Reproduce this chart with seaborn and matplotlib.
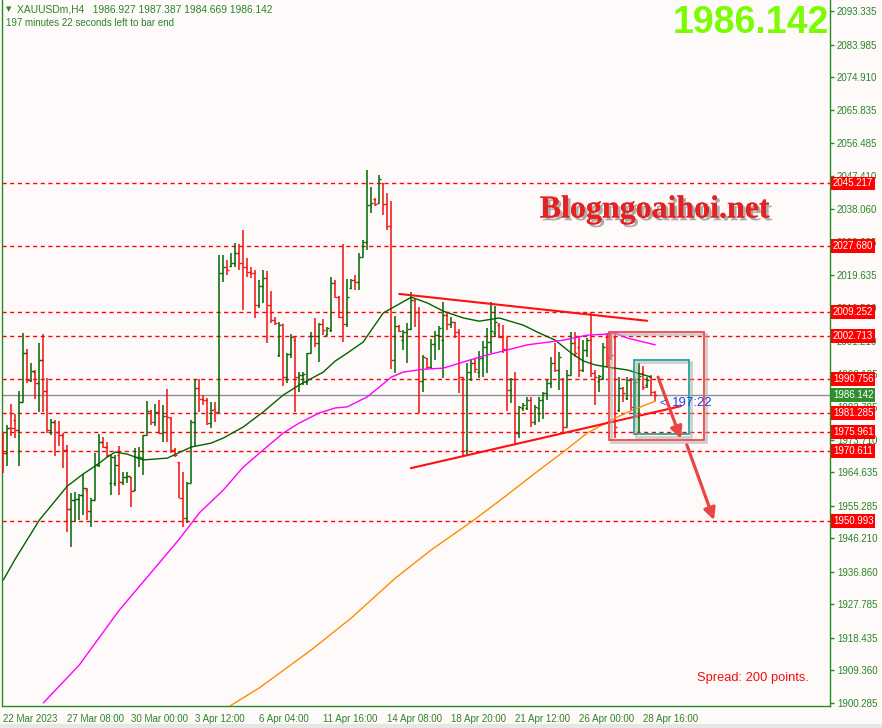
import numpy as np
import pandas as pd
import seaborn as sns
import matplotlib.pyplot as plt
import matplotlib.patheffects as pe
from matplotlib.patches import Rectangle

# XAUUSDm H4 bars (oldest first)
opens = [
    1975.0, 1970.1, 1981.1, 1979.2, 1976.4, 1984.2, 1997.8, 1990.4, 1992.7, 1989.5,
    1996.0, 1987.3, 1976.0, 1978.8, 1976.0, 1975.0, 1971.0, 1954.3, 1956.9, 1957.1,
    1958.3, 1959.7, 1953.9, 1956.9, 1966.7, 1973.2, 1971.8, 1961.7, 1961.7, 1969.5,
    1962.0, 1963.4, 1963.4, 1959.7, 1968.5, 1968.5, 1975.0, 1981.8, 1978.8, 1981.6,
    1975.5, 1980.3, 1979.7, 1970.9, 1967.6, 1957.4, 1951.8, 1961.6, 1978.8, 1988.1,
    1985.1, 1984.8, 1978.3, 1982.2, 1981.6, 2020.3, 2022.0, 2022.2, 2023.1, 2025.7,
    2022.9, 2022.0, 2020.6, 2020.3, 2011.3, 2016.6, 2018.8, 2011.3, 2007.1, 1997.5,
    2006.0, 1991.1, 1997.6, 2001.6, 1991.3, 1991.8, 1989.9, 1997.8, 2002.7, 2000.6,
    2006.0, 2002.9, 2004.3, 2017.4, 2013.6, 2008.1, 2006.0, 2016.0, 2018.3, 2017.8,
    2024.6, 2029.0, 2039.2, 2040.8, 2039.9, 2045.3, 2039.5, 2033.4, 1996.0, 2005.5,
    2001.5, 2003.9, 2004.5, 2012.7, 2009.5, 1990.2, 1996.4, 1994.1, 2000.3, 2002.9,
    2001.5, 2008.5, 2006.0, 2006.7, 2003.9, 1991.3, 1970.9, 1992.7, 1995.0, 1992.7,
    1996.4, 1999.7, 2001.1, 2003.4, 2005.7, 2002.5, 1999.0, 1987.6, 1990.6, 1975.5,
    1982.5, 1982.5, 1984.8, 1978.8, 1982.5, 1984.8, 1986.7, 1989.5, 1995.2, 1993.2,
    1990.6, 1977.4, 1991.8, 2000.6, 1999.7, 1993.2, 1998.8, 2001.6, 1992.3, 1990.0,
    1990.9, 2002.5, 1999.7, 2002.5, 1982.0, 1988.1, 1985.3, 1990.4, 1982.8, 1980.2,
    1992.3, 1989.0, 1991.1, 1986.927,
]
highs = [
    1975.5, 1977.8, 1983.7, 1980.9, 1987.3, 2003.4, 1999.0, 1995.2, 1993.2, 2000.6,
    2003.2, 1990.9, 1979.5, 1979.2, 1979.0, 1975.5, 1972.3, 1959.0, 1959.2, 1958.6,
    1964.2, 1960.2, 1957.4, 1969.9, 1975.2, 1974.6, 1973.2, 1969.5, 1969.5, 1972.0,
    1964.8, 1964.8, 1963.4, 1971.5, 1971.8, 1975.0, 1984.5, 1982.0, 1983.7, 1984.8,
    1983.4, 1987.9, 1980.2, 1971.3, 1967.6, 1964.8, 1962.0, 1979.2, 1990.7, 1990.7,
    1986.2, 1985.3, 1984.3, 1984.3, 2025.3, 2025.3, 2023.9, 2025.7, 2028.5, 2028.3,
    2032.2, 2024.3, 2022.0, 2021.1, 2018.3, 2021.1, 2020.9, 2015.3, 2008.1, 2006.7,
    2006.0, 1997.8, 2003.2, 2002.3, 1992.7, 1992.7, 1998.0, 2003.9, 2007.6, 2006.2,
    2007.3, 2005.1, 2019.2, 2018.3, 2013.8, 2028.2, 2018.7, 2018.7, 2019.7, 2025.7,
    2029.4, 2049.0, 2044.3, 2041.3, 2047.6, 2045.3, 2042.5, 2040.4, 2008.2, 2005.7,
    2004.3, 2006.4, 2015.0, 2012.9, 2010.8, 1997.4, 1996.6, 2001.8, 2004.1, 2005.4,
    2012.2, 2009.2, 2008.1, 2006.7, 2004.5, 1991.3, 1995.0, 1996.2, 1996.2, 1998.6,
    2001.4, 2004.8, 2012.2, 2011.0, 2006.2, 2005.7, 2002.5, 1990.9, 1992.7, 1983.1,
    1983.9, 1985.6, 1985.7, 1983.4, 1985.7, 1987.1, 1990.4, 1996.9, 2000.6, 1998.3,
    1990.9, 1993.2, 2003.9, 2003.9, 2002.5, 2001.6, 2002.0, 2009.5, 1993.2, 1991.8,
    2000.6, 2003.4, 2003.4, 2003.4, 1991.1, 1988.5, 1991.3, 1990.9, 1990.9, 1995.2,
    1994.3, 1991.1, 1991.8, 1987.387,
]
lows = [
    1964.5, 1966.5, 1974.8, 1974.1, 1966.5, 1984.2, 1989.5, 1989.9, 1985.1, 1981.6,
    1981.6, 1975.5, 1975.0, 1969.3, 1972.1, 1965.9, 1948.1, 1943.9, 1950.7, 1951.3,
    1952.7, 1951.3, 1949.3, 1956.9, 1966.2, 1971.5, 1969.0, 1958.3, 1960.8, 1958.3,
    1961.1, 1961.6, 1955.0, 1959.5, 1966.2, 1963.9, 1975.0, 1977.8, 1977.6, 1975.3,
    1973.2, 1973.2, 1969.9, 1968.8, 1957.4, 1949.5, 1950.4, 1961.6, 1972.1, 1981.6,
    1983.4, 1977.8, 1976.9, 1978.6, 1981.6, 2017.8, 2019.7, 2022.0, 2022.0, 2021.1,
    2009.9, 2019.2, 2018.8, 2007.6, 2010.4, 2011.8, 2000.8, 2006.2, 2005.7, 1996.9,
    1988.8, 1989.5, 1996.4, 1981.6, 1987.1, 1989.0, 1989.0, 1997.8, 1999.7, 1995.5,
    2002.9, 2002.9, 2003.9, 2013.2, 2007.6, 2001.1, 2005.3, 2015.7, 2015.5, 2015.5,
    2024.6, 2026.7, 2036.9, 2038.9, 2039.9, 2036.4, 2032.2, 1993.6, 1992.4, 2003.9,
    1998.8, 1995.2, 2004.3, 2005.3, 1981.1, 1987.1, 1993.6, 1993.6, 1996.0, 1998.9,
    1990.9, 2004.3, 2004.8, 2002.0, 1986.9, 1969.2, 1969.5, 1990.2, 1992.3, 1990.9,
    1991.3, 1992.3, 1997.8, 2002.4, 2002.0, 1997.8, 1981.8, 1983.9, 1972.3, 1974.1,
    1981.8, 1982.0, 1977.4, 1977.8, 1978.8, 1979.4, 1984.8, 1988.1, 1992.7, 1987.6,
    1976.0, 1977.4, 1991.8, 1996.9, 1991.3, 1992.7, 1996.9, 1991.3, 1983.4, 1987.1,
    1990.4, 1994.1, 1996.0, 1974.1, 1981.6, 1984.3, 1984.8, 1981.8, 1980.2, 1976.0,
    1987.6, 1988.3, 1985.9, 1984.669,
]
closes = [
    1970.1, 1976.9, 1976.9, 1976.4, 1984.2, 1997.8, 1990.4, 1993.0, 1989.5, 1996.0,
    1987.3, 1976.4, 1978.8, 1976.0, 1975.0, 1971.0, 1954.3, 1956.9, 1957.1, 1958.3,
    1960.2, 1953.9, 1956.9, 1966.7, 1973.2, 1971.8, 1969.5, 1969.0, 1966.7, 1962.0,
    1963.4, 1963.6, 1959.5, 1969.0, 1969.0, 1975.0, 1981.8, 1978.8, 1981.6, 1975.5,
    1980.3, 1980.0, 1970.9, 1969.5, 1957.4, 1951.8, 1961.6, 1978.8, 1988.1, 1985.1,
    1984.8, 1978.3, 1982.0, 1981.6, 2020.3, 2022.0, 2021.1, 2023.1, 2025.7, 2022.9,
    2022.0, 2020.6, 2020.3, 2011.3, 2016.6, 2018.8, 2011.3, 2007.1, 2006.2, 2005.8,
    1991.1, 1997.6, 2002.5, 1991.3, 1991.8, 1992.2, 1997.8, 2002.7, 2000.6, 2006.0,
    2004.3, 2004.8, 2017.4, 2013.6, 2008.1, 2006.0, 2013.6, 2018.3, 2017.8, 2024.6,
    2029.0, 2039.2, 2039.9, 2039.5, 2046.4, 2039.5, 2033.4, 1996.0, 2005.5, 2004.1,
    2003.9, 2004.5, 2012.7, 2009.5, 1990.2, 1996.7, 1994.1, 2000.3, 2002.9, 2004.8,
    2008.5, 2006.0, 2006.7, 2003.9, 1991.3, 1969.5, 1992.7, 1995.0, 1993.6, 1996.4,
    1999.7, 2001.1, 2004.0, 2006.7, 2002.5, 1999.0, 1987.6, 1990.6, 1975.5, 1983.0,
    1983.4, 1984.8, 1978.8, 1983.0, 1984.8, 1986.7, 1989.5, 1995.2, 1993.2, 1996.9,
    1977.4, 1991.8, 2000.6, 1997.8, 1993.2, 1998.8, 2001.6, 1992.3, 1991.1, 1991.5,
    1999.7, 1996.9, 1997.4, 1977.2, 1988.1, 1986.7, 1990.4, 1982.8, 1989.9, 1991.5,
    1988.5, 1990.4, 1987.0, 1986.142,
]

# moving averages, sampled along the drawn lines (bar index, price)
ma_green_idx = [0, 3, 9, 16, 20, 23, 26, 28, 31, 35, 41, 47, 52, 55, 60, 65, 70, 74,
                80, 83, 86, 90, 92, 95, 99, 102, 106, 110, 115, 119, 124, 130, 134,
                138, 142, 145, 148, 151, 156, 162]
ma_green_val = [1934.6, 1940.5, 1951.3, 1960.8, 1964.2, 1966.4, 1968.9, 1970.3, 1969.7,
                1968.1, 1968.6, 1971.7, 1972.8, 1974.2, 1977.3, 1981.5, 1986.2, 1989.0,
                1992.6, 1995.7, 1997.9, 2001.0, 2004.3, 2009.1, 2011.6, 2013.5, 2011.9,
                2009.6, 2007.7, 2006.8, 2007.7, 2005.7, 2003.5, 2001.5, 1997.9, 1995.7,
                1994.6, 1994.0, 1993.2, 1991.2]
ma_magenta_idx = [10, 19, 29, 40, 44, 49, 55, 60, 65, 70, 74, 79, 83, 86, 91, 94, 97,
                  100, 105, 110, 115, 120, 124, 131, 140, 146, 151, 153, 156, 163]
ma_magenta_val = [1900.3, 1910.9, 1926.2, 1940.7, 1946.0, 1953.3, 1959.7, 1966.1, 1970.9,
                  1975.6, 1978.4, 1981.2, 1982.6, 1982.9, 1985.7, 1988.4, 1991.2, 1992.6,
                  1993.4, 1993.7, 1995.4, 1997.1, 1998.2, 2000.2, 2001.5, 2002.9, 2003.2,
                  2003.5, 2002.1, 2000.2]
ma_orange_idx = [56, 64, 77, 87, 98, 107, 117, 125, 134, 140, 146, 153, 158, 163]
ma_orange_val = [1899.0, 1904.5, 1915.1, 1924.0, 1935.1, 1943.0, 1950.8, 1957.5, 1965.3,
                 1970.3, 1975.6, 1979.8, 1982.3, 1984.5]

# drawn objects
levels = [2045.217, 2027.680, 2009.252, 2002.713, 1990.756, 1981.285, 1975.961, 1970.611, 1950.993]
last_price = 1986.142
upper_trend = ([99, 161], [2014.4, 2006.9])
lower_trend = ([101.9, 169.4], [1965.8, 1983.1])
outer_box = (151.5, 1973.65, 175.2, 2003.87)
inner_box = (157.75, 1975.2, 171.5, 1995.9)
arrow1 = ((163.7, 1991.2), (169.4, 1974.0))
arrow2 = ((170.9, 1972.3), (177.7, 1951.3))

price_ticks = [2093.335, 2083.985, 2074.910, 2065.835, 2056.485, 2047.410, 2038.060,
               2028.985, 2019.635, 2010.560, 2001.210, 1992.135, 1982.785, 1973.710,
               1964.635, 1955.285, 1946.210, 1936.860, 1927.785, 1918.435, 1909.360, 1900.285]
date_ticks = [0, 16, 32, 48, 64, 80, 96, 112, 128, 144, 160]
date_labels = ['22 Mar 2023', '27 Mar 08:00', '30 Mar 00:00', '3 Apr 12:00', '6 Apr 04:00',
               '11 Apr 16:00', '14 Apr 08:00', '18 Apr 20:00', '21 Apr 12:00',
               '26 Apr 00:00', '28 Apr 16:00']

BG = '#fffafa'
UP = '#006400'
DOWN = '#f01010'
AXCOL = '#238b23'
TXT = '#2a8526'

sns.set_style('white')
plt.rcParams['font.family'] = ['Liberation Sans', 'DejaVu Sans']

W, H = 882, 728
fig = plt.figure(figsize=(W / 100, H / 100), dpi=100, facecolor=BG)
ax = fig.add_axes([2 / W, 22 / H, 828 / W, 706 / H], facecolor=BG)
ax.set_xlim(-0.33, 206.7)
ax.set_ylim(1899.45, 2096.40)

df = pd.DataFrame({'o': opens, 'h': highs, 'l': lows, 'c': closes})
df['i'] = np.arange(len(df))
colors = np.where(df['c'] >= df['o'], UP, DOWN)

# horizontal levels
for lv in levels:
    ax.axhline(lv, color='#ff0000', lw=1, dashes=(3, 2.5), zorder=1)
ax.axhline(last_price, color='#8a9098', lw=1, zorder=1)

# OHLC bars
ax.vlines(df['i'], df['l'], df['h'], colors=colors, lw=1.1, zorder=3)
ax.hlines(df['o'], df['i'] - 0.55, df['i'], colors=colors, lw=1.0, zorder=3)
ax.hlines(df['c'], df['i'], df['i'] + 0.55, colors=colors, lw=1.0, zorder=3)

# moving averages
sns.lineplot(x=ma_green_idx, y=ma_green_val, ax=ax, color='#006400', lw=1,
             estimator=None, sort=False, zorder=4)
sns.lineplot(x=ma_magenta_idx, y=ma_magenta_val, ax=ax, color='#ff00ff', lw=1,
             estimator=None, sort=False, zorder=4)
sns.lineplot(x=ma_orange_idx, y=ma_orange_val, ax=ax, color='#ff8c00', lw=1,
             estimator=None, sort=False, zorder=4)

# trend lines
ax.plot(*upper_trend, color='#ff1010', lw=1.5, zorder=5)
ax.plot(*lower_trend, color='#ff1010', lw=1.5, zorder=5)

# boxes with a soft shadow
for (x0, y0, x1, y1), col in [(outer_box, '#f04848'), (inner_box, '#20a898')]:
    ax.add_patch(Rectangle((x0 + 0.5, y0 - 0.6), x1 - x0, y1 - y0, fill=False,
                           ec='#b0b0b0', lw=2, alpha=0.6, zorder=5))
    ax.add_patch(Rectangle((x0, y0), x1 - x0, y1 - y0, fill=False, ec=col, lw=1.3, zorder=6))

# arrows
for (s, e) in [arrow1, arrow2]:
    ax.annotate('', xy=e, xytext=s, zorder=7,
                arrowprops=dict(arrowstyle='-|>,head_length=0.7,head_width=0.35',
                                color='#e84545', lw=2.3, shrinkA=0, shrinkB=0))

# axes styling
for side in ['left', 'right', 'bottom']:
    ax.spines[side].set_color(AXCOL)
    ax.spines[side].set_linewidth(1)
ax.spines['top'].set_visible(False)
ax.yaxis.tick_right()
ax.set_yticks(price_ticks)
ax.set_yticklabels([f'{v:.3f}' for v in price_ticks])
ax.set_xticks(date_ticks)
ax.set_xticklabels(date_labels, ha='left')
ax.tick_params(axis='y', direction='out', length=3, width=1, color=AXCOL,
               labelcolor=TXT, labelsize=7, pad=2)
ax.tick_params(axis='x', direction='out', length=4, width=1, color=AXCOL,
               labelcolor=TXT, labelsize=7, pad=2)
ax.set_xlabel('')
ax.set_ylabel('')

# price tags on the right scale (they sit over some scale labels, as in MT4)
ytrans = ax.get_yaxis_transform()
for lv in levels:
    ax.text(1.0035, lv, f'{lv:.3f}', transform=ytrans, ha='left', va='center',
            color='white', fontsize=7, clip_on=False, zorder=20,
            bbox=dict(boxstyle='square,pad=0.2', fc='#ff0000', ec='none'))
ax.text(1.0035, last_price, f'{last_price:.3f}', transform=ytrans, ha='left', va='center',
        color='white', fontsize=7, clip_on=False, zorder=20,
        bbox=dict(boxstyle='square,pad=0.2', fc='#2f8f2f', ec='none'))

# texts
fig.text(6 / W, 1 - 9 / H, '\u25bc', fontsize=5, color=TXT, va='center',
         family=['DejaVu Sans'])
fig.text(17 / W, 1 - 9 / H, 'XAUUSDm,H4   1986.927 1987.387 1984.669 1986.142',
         fontsize=7.4, color=TXT, va='center')
fig.text(6 / W, 1 - 23 / H, '197 minutes 22 seconds left to bar end',
         fontsize=7, color=TXT, va='center')
fig.text(829 / W, 1 - 23 / H, '1986.142', ha='right', va='center', fontsize=27,
         fontweight='bold', color='#7cfc00')
fig.text(655 / W, 1 - 210 / H, 'Blogngoaihoi.net', ha='center', va='center',
         family=['Liberation Serif'], fontweight='bold', fontsize=23, color='#e32222',
         path_effects=[pe.withSimplePatchShadow(offset=(2, -2), shadow_rgbFace='#777777',
                                                alpha=0.6), pe.Normal()])
fig.text(697 / W, 1 - 678 / H, 'Spread: 200 points.', va='center', fontsize=9.3,
         color='#ee1111')
fig.text(660 / W, 1 - 403 / H, '<', va='center', fontsize=8, color='#2244ee')
fig.text(672 / W, 1 - 403 / H, '197:22', va='center', fontsize=9.5, color='#2244ee')

fig.patches.append(Rectangle((0, 0), 1, 4 / H, transform=fig.transFigure,
                             color='#e6e6e6', zorder=0))

fig.savefig('out.png', dpi=100, facecolor=BG)
